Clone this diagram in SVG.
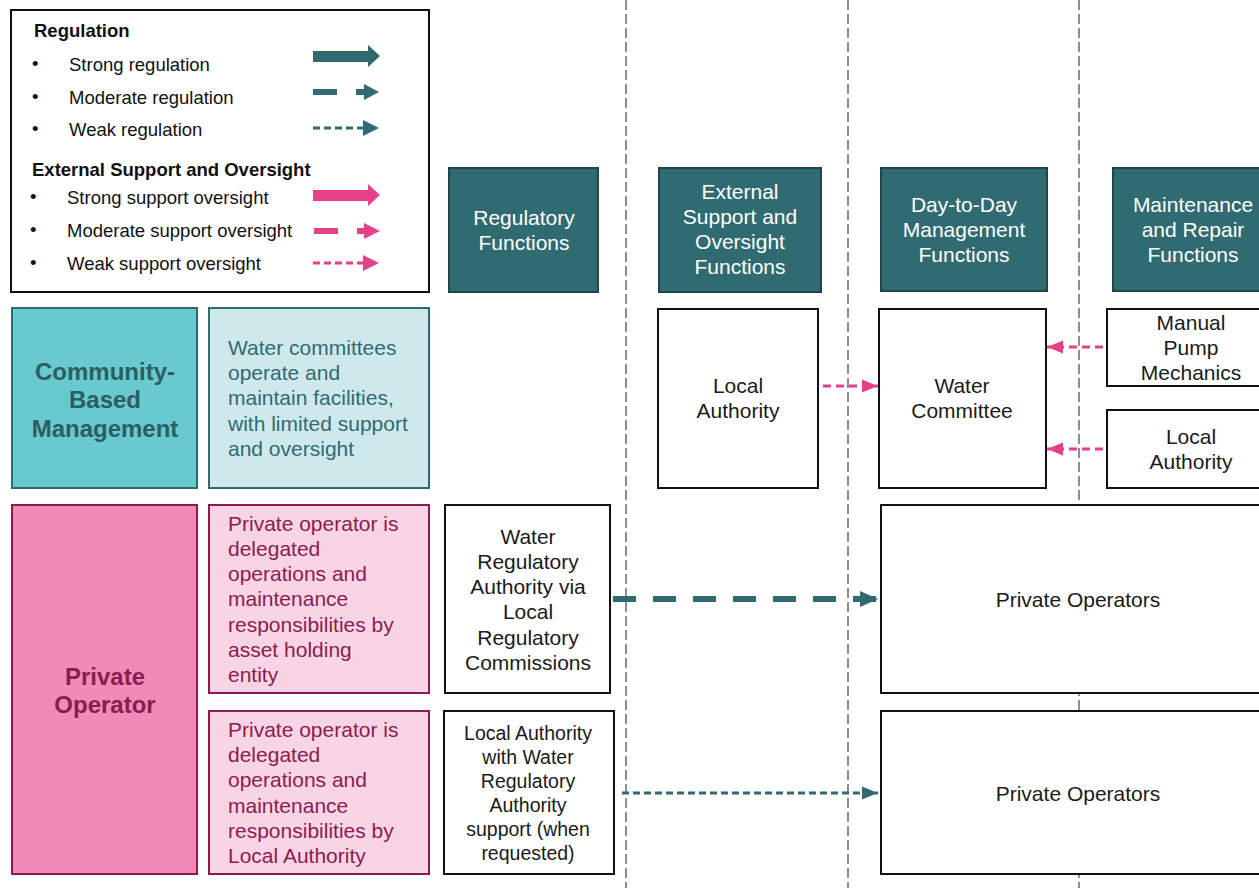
<svg xmlns="http://www.w3.org/2000/svg" width="1259" height="888" viewBox="0 0 1259 888">
<style>
text{font-family:"Liberation Sans",Arial,sans-serif}
.lg{font-size:18.5px;fill:#111}
.lgb{font-size:18.5px;font-weight:bold;fill:#111}
.hdr{fill:#2F6B71;stroke:#1D4649;stroke-width:2}
.ht{font-size:21px;fill:#fff;text-anchor:middle}
.wb{fill:#fff;stroke:#111;stroke-width:2}
.bt{font-size:21px;fill:#1a1a1a;text-anchor:middle}
.bts{font-size:19.5px;fill:#1a1a1a;text-anchor:middle}
.sep{stroke:#555;stroke-width:1.3;stroke-dasharray:10 4;fill:none}
.tl{stroke:#2F6B71;fill:none}
.pk{stroke:#E5418A;fill:none}
</style>
<defs>
<marker id="hT" markerUnits="userSpaceOnUse" markerWidth="20" markerHeight="18" refX="18" refY="9" orient="auto"><path d="M0,1 L18,9 L0,17 Z" fill="#2F6B71"/></marker>
<marker id="hTs" markerUnits="userSpaceOnUse" markerWidth="18" markerHeight="14" refX="16" refY="7" orient="auto"><path d="M0,0.5 L16,7 L0,13.5 Z" fill="#2F6B71"/></marker>
<marker id="hP" markerUnits="userSpaceOnUse" markerWidth="18" markerHeight="14" refX="16" refY="7" orient="auto"><path d="M0,0.5 L16,7 L0,13.5 Z" fill="#E5418A"/></marker>
</defs>

<g id="separators">
<line class="sep" x1="626" y1="0" x2="626" y2="888"/>
<line class="sep" x1="848" y1="0" x2="848" y2="888"/>
<line class="sep" x1="1079" y1="0" x2="1079" y2="888"/>
</g>

<g id="legend">
<rect x="11" y="10" width="418" height="282" fill="#fff" stroke="#111" stroke-width="2"/>
<text class="lgb" x="34" y="37">Regulation</text>
<text class="lg" x="32" y="70">•</text><text class="lg" x="69" y="71">Strong regulation</text>
<text class="lg" x="32" y="103">•</text><text class="lg" x="69" y="104">Moderate regulation</text>
<text class="lg" x="32" y="135">•</text><text class="lg" x="69" y="136">Weak regulation</text>
<text class="lgb" x="32" y="176">External Support and Oversight</text>
<text class="lg" x="30" y="203">•</text><text class="lg" x="67" y="204">Strong support oversight</text>
<text class="lg" x="30" y="236">•</text><text class="lg" x="67" y="237">Moderate support oversight</text>
<text class="lg" x="30" y="269">•</text><text class="lg" x="67" y="270">Weak support oversight</text>
<polygon points="313,51 368,51 368,45 380,56 368,67 368,62 313,62" fill="#2F6B71"/>
<rect x="313" y="89" width="24" height="6" fill="#2F6B71"/>
<polygon points="356,89 364,89 364,84 379,92 364,100 364,95 356,95" fill="#2F6B71"/>
<line x1="313" y1="128" x2="364" y2="128" stroke="#2F6B71" stroke-width="3" stroke-dasharray="7 4"/>
<polygon points="363,120 379,128 363,136" fill="#2F6B71"/>
<polygon points="313,190 368,190 368,184 380,195 368,206 368,201 313,201" fill="#E5418A"/>
<rect x="314" y="228" width="24" height="6" fill="#E5418A"/>
<polygon points="357,228 364,228 364,223 380,231 364,239 364,234 357,234" fill="#E5418A"/>
<line x1="313" y1="263" x2="364" y2="263" stroke="#E5418A" stroke-width="3" stroke-dasharray="7 4"/>
<polygon points="363,255 379,263 363,271" fill="#E5418A"/>
</g>

<g id="hdr-regulatory">
<rect class="hdr" x="449" y="168" width="149" height="124"/>
<text class="ht" x="524" y="225">Regulatory</text>
<text class="ht" x="524" y="250">Functions</text>
</g>
<g id="hdr-external">
<rect class="hdr" x="659" y="168" width="162" height="124"/>
<text class="ht" x="740" y="199">External</text>
<text class="ht" x="740" y="224">Support and</text>
<text class="ht" x="740" y="249">Oversight</text>
<text class="ht" x="740" y="274">Functions</text>
</g>
<g id="hdr-daytoday">
<rect class="hdr" x="881" y="168" width="166" height="123"/>
<text class="ht" x="964" y="212">Day-to-Day</text>
<text class="ht" x="964" y="237">Management</text>
<text class="ht" x="964" y="262">Functions</text>
</g>
<g id="hdr-maintenance">
<rect class="hdr" x="1113" y="168" width="160" height="123"/>
<text class="ht" x="1193" y="212">Maintenance</text>
<text class="ht" x="1193" y="237">and Repair</text>
<text class="ht" x="1193" y="262">Functions</text>
</g>

<g id="cbm">
<rect x="12" y="308" width="185" height="180" fill="#68C9CE" stroke="#2F6B71" stroke-width="2"/>
<text x="105" y="380" font-size="24" font-weight="bold" fill="#2B5E62" text-anchor="middle">Community-</text>
<text x="105" y="408" font-size="24" font-weight="bold" fill="#2B5E62" text-anchor="middle">Based</text>
<text x="105" y="437" font-size="24" font-weight="bold" fill="#2B5E62" text-anchor="middle">Management</text>
</g>
<g id="cbm-desc">
<rect x="209" y="308" width="220" height="180" fill="#CFE8EB" stroke="#2F6B71" stroke-width="2"/>
<text x="228" font-size="21" fill="#2F6B71"><tspan x="228" y="355">Water committees</tspan><tspan x="228" y="380">operate and</tspan><tspan x="228" y="405">maintain facilities,</tspan><tspan x="228" y="431">with limited support</tspan><tspan x="228" y="456">and oversight</tspan></text>
</g>
<g id="cbm-local-authority">
<rect class="wb" x="658" y="309" width="160" height="179"/>
<text class="bt" x="738" y="393">Local</text>
<text class="bt" x="738" y="418">Authority</text>
</g>
<g id="cbm-water-committee">
<rect class="wb" x="879" y="309" width="167" height="179"/>
<text class="bt" x="962" y="393">Water</text>
<text class="bt" x="962" y="418">Committee</text>
</g>
<g id="cbm-pump-mechanics">
<rect class="wb" x="1107" y="309" width="170" height="77"/>
<text class="bt" x="1191" y="330">Manual</text>
<text class="bt" x="1191" y="355">Pump</text>
<text class="bt" x="1191" y="380">Mechanics</text>
</g>
<g id="cbm-maint-local-authority">
<rect class="wb" x="1107" y="410" width="170" height="78"/>
<text class="bt" x="1191" y="444">Local</text>
<text class="bt" x="1191" y="469">Authority</text>
</g>

<g id="po">
<rect x="12" y="505" width="185" height="369" fill="#EE8BB7" stroke="#8C1C50" stroke-width="2"/>
<text x="105" y="685" font-size="24" font-weight="bold" fill="#8C1C50" text-anchor="middle">Private</text>
<text x="105" y="713" font-size="24" font-weight="bold" fill="#8C1C50" text-anchor="middle">Operator</text>
</g>
<g id="po-desc1">
<rect x="209" y="505" width="220" height="188" fill="#F8D4E4" stroke="#8C1C50" stroke-width="2"/>
<text font-size="21" fill="#8C1C50"><tspan x="228" y="531">Private operator is</tspan><tspan x="228" y="556">delegated</tspan><tspan x="228" y="581">operations and</tspan><tspan x="228" y="606">maintenance</tspan><tspan x="228" y="632">responsibilities by</tspan><tspan x="228" y="657">asset holding</tspan><tspan x="228" y="682">entity</tspan></text>
</g>
<g id="po-desc2">
<rect x="209" y="711" width="220" height="163" fill="#F8D4E4" stroke="#8C1C50" stroke-width="2"/>
<text font-size="21" fill="#8C1C50"><tspan x="228" y="737">Private operator is</tspan><tspan x="228" y="762">delegated</tspan><tspan x="228" y="787">operations and</tspan><tspan x="228" y="813">maintenance</tspan><tspan x="228" y="838">responsibilities by</tspan><tspan x="228" y="863">Local Authority</tspan></text>
</g>
<g id="po-wra">
<rect class="wb" x="445" y="505" width="165" height="188"/>
<text class="bt"><tspan x="528" y="544">Water</tspan><tspan x="528" y="569">Regulatory</tspan><tspan x="528" y="594">Authority via</tspan><tspan x="528" y="619">Local</tspan><tspan x="528" y="645">Regulatory</tspan><tspan x="528" y="670">Commissions</tspan></text>
</g>
<g id="po-la-wra">
<rect class="wb" x="444" y="711" width="170" height="163"/>
<text class="bts"><tspan x="528" y="740">Local Authority</tspan><tspan x="528" y="764">with Water</tspan><tspan x="528" y="788">Regulatory</tspan><tspan x="528" y="812">Authority</tspan><tspan x="528" y="836">support (when</tspan><tspan x="528" y="860">requested)</tspan></text>
</g>
<g id="po-operators1">
<rect class="wb" x="881" y="505" width="396" height="188"/>
<text class="bt" x="1078" y="607">Private Operators</text>
</g>
<g id="po-operators2">
<rect class="wb" x="881" y="711" width="396" height="163"/>
<text class="bt" x="1078" y="801">Private Operators</text>
</g>

<g id="connectors">
<line class="pk" x1="823" y1="386" x2="878" y2="386" stroke-width="3" stroke-dasharray="8 5" marker-end="url(#hP)"/>
<line class="pk" x1="1103" y1="347" x2="1047" y2="347" stroke-width="3" stroke-dasharray="8 5" marker-end="url(#hP)"/>
<line class="pk" x1="1103" y1="449" x2="1047" y2="449" stroke-width="3" stroke-dasharray="8 5" marker-end="url(#hP)"/>
<line class="tl" x1="613" y1="599" x2="878" y2="599" stroke-width="6" stroke-dasharray="23 17" marker-end="url(#hT)"/>
<line class="tl" x1="622" y1="793" x2="878" y2="793" stroke-width="3" stroke-dasharray="7 4" marker-end="url(#hTs)"/>
</g>
</svg>
